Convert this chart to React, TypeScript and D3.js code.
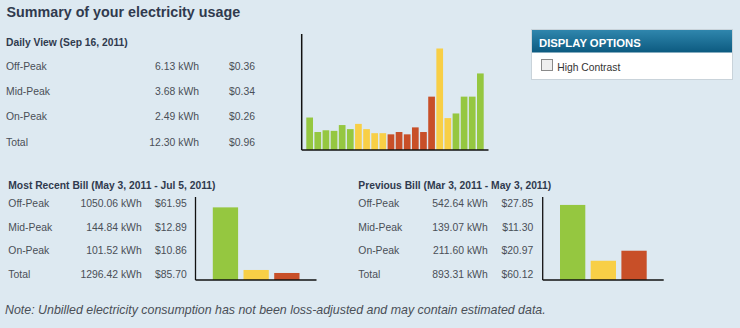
import React from 'react';
import * as d3 from 'd3';

const periods = ['Off-Peak', 'Mid-Peak', 'On-Peak'];
const periodKeys = ['off', 'mid', 'on'];
const periodColors = ['#95c740', '#f8cf46', '#c84f28'];

const dailyTitle = 'Daily View (Sep 16, 2011)';
const dailyKwh = [6.13, 3.68, 2.49];
const dailyCost = [0.36, 0.34, 0.26];
const dailyTotal = [12.3, 0.96];
const dailyValues = [0.56, 0.31, 0.34, 0.33, 0.43, 0.36, 0.45, 0.36, 0.29, 0.29, 0.27, 0.31, 0.27, 0.39, 0.31, 0.92, 1.75, 0.55, 0.63, 0.92, 0.92, 1.32];
const dailyPeriods = ['off', 'off', 'off', 'off', 'off', 'off', 'mid', 'mid', 'mid', 'mid', 'on', 'on', 'on', 'on', 'on', 'on', 'mid', 'mid', 'off', 'off', 'off', 'off'];

const recentTitle = 'Most Recent Bill (May 3, 2011 - Jul 5, 2011)';
const recentKwh = [1050.06, 144.84, 101.52];
const recentCost = [61.95, 12.89, 10.86];
const recentTotal = [1296.42, 85.7];

const prevTitle = 'Previous Bill (Mar 3, 2011 - May 3, 2011)';
const prevKwh = [542.64, 139.07, 211.6];
const prevCost = [27.85, 11.3, 20.97];
const prevTotal = [893.31, 60.12];

const FONT = '"Liberation Sans", Arial, Helvetica, sans-serif';
const TXT = '#4a4f57';
const HEAD = '#303a4e';

const fmtK = (v: number) => `${v.toFixed(2)} kWh`;
const fmtC = (v: number) => `$${v.toFixed(2)}`;

function Table({ x, kx, cx, cAnchor, ys, kwh, cost, total }: any) {
  const labels = [...periods, 'Total'];
  const ks = [...kwh, total[0]];
  const cs = [...cost, total[1]];
  return (
    <g fontFamily={FONT} fontSize={10.4} fill={TXT}>
      {labels.map((l, i) => (
        <g key={l}>
          <text x={x} y={ys[i]}>{l}</text>
          <text x={kx} y={ys[i]} textAnchor="end">{fmtK(ks[i])}</text>
          <text x={cx} y={ys[i]} textAnchor={cAnchor}>{fmtC(cs[i])}</text>
        </g>
      ))}
    </g>
  );
}

function BillChart({ ax, values }: any) {
  const top = 197, base = 280;
  const y = d3.scaleLinear().domain([0, d3.max(values) as number]).nice(5).range([base, top]);
  const x = d3.scaleBand<string>().domain(periodKeys).range([ax + 17.3, ax + 104]).paddingInner(0.176);
  return (
    <g>
      {values.map((v: number, i: number) => (
        <rect key={i} x={x(periodKeys[i])} y={y(v)} width={x.bandwidth()} height={base - y(v)} fill={periodColors[i]} />
      ))}
      <line x1={ax} x2={ax} y1={top} y2={base} stroke="#111" strokeWidth={1.3} />
      <line x1={ax} x2={ax + 121} y1={base} y2={base} stroke="#111" strokeWidth={1.3} />
    </g>
  );
}

function DailyChart() {
  const ax = 301.7, top = 34, base = 150;
  const y = d3.scaleLinear().domain([0, d3.max(dailyValues) as number]).nice(5).range([base, top]);
  const x = d3.scaleBand<number>().domain(dailyValues.map((_, i) => i)).range([306.3, 483.7]).paddingInner(0.176);
  const color = (k: string) => periodColors[periodKeys.indexOf(k)];
  return (
    <g>
      {dailyValues.map((v, i) => (
        <rect key={i} x={x(i)} y={y(v)} width={x.bandwidth()} height={base - y(v)} fill={color(dailyPeriods[i])} />
      ))}
      <line x1={ax} x2={ax} y1={top} y2={base} stroke="#111" strokeWidth={1.5} />
      <line x1={ax} x2={488.5} y1={base} y2={base} stroke="#111" strokeWidth={1.5} />
    </g>
  );
}

export default function App() {
  return (
    <div style={{ position: 'fixed', left: 0, top: 0 }}>
      <svg width={740} height={328} style={{ display: 'block' }}>
        <defs>
          <linearGradient id="hdr" x1="0" x2="0" y1="0" y2="1">
            <stop offset="0" stopColor="#2f86ad" />
            <stop offset="1" stopColor="#0c5a80" />
          </linearGradient>
        </defs>
        <rect x={0} y={0} width={740} height={328} fill="#dde9f1" />
        <text x={6.5} y={17.3} fontFamily={FONT} fontSize={14.3} fontWeight="bold" fill={HEAD}>Summary of your electricity usage</text>

        <text x={6} y={46} fontFamily={FONT} fontSize={10.3} fontWeight="bold" fill={HEAD}>{dailyTitle}</text>
        <Table x={6} kx={199} cx={255} cAnchor="end" ys={[70, 95, 120, 145.7]} kwh={dailyKwh} cost={dailyCost} total={dailyTotal} />
        <DailyChart />

        <text x={8.3} y={189} fontFamily={FONT} fontSize={10.3} fontWeight="bold" fill={HEAD}>{recentTitle}</text>
        <Table x={8.3} kx={141.7} cx={186.7} cAnchor="end" ys={[206.7, 231, 254, 278.3]} kwh={recentKwh} cost={recentCost} total={recentTotal} />
        <BillChart ax={195.5} values={recentKwh} />

        <text x={358.3} y={189} fontFamily={FONT} fontSize={10.3} fontWeight="bold" fill={HEAD}>{prevTitle}</text>
        <Table x={358.3} kx={487.7} cx={533.3} cAnchor="end" ys={[206.7, 231, 254, 278.3]} kwh={prevKwh} cost={prevCost} total={prevTotal} />
        <BillChart ax={542.7} values={prevKwh} />

        <g>
          <rect x={531.5} y={29.5} width={201} height={50} fill="#ffffff" stroke="#c9d3da" />
          <rect x={532} y={30} width={200} height={22.5} fill="url(#hdr)" />
          <text x={539} y={46.5} fontFamily={FONT} fontSize={11.3} fontWeight="bold" fill="#ffffff">DISPLAY OPTIONS</text>
          <rect x={541.5} y={59.5} width={11} height={11} fill="#eeeeee" stroke="#8a8a8a" />
          <text x={557.3} y={70.5} fontFamily={FONT} fontSize={10.3} fill="#333">High Contrast</text>
        </g>

        <text x={5} y={314} fontFamily={FONT} fontSize={12.4} fontStyle="italic" fill={TXT}>Note: Unbilled electricity consumption has not been loss-adjusted and may contain estimated data.</text>
      </svg>
    </div>
  );
}
